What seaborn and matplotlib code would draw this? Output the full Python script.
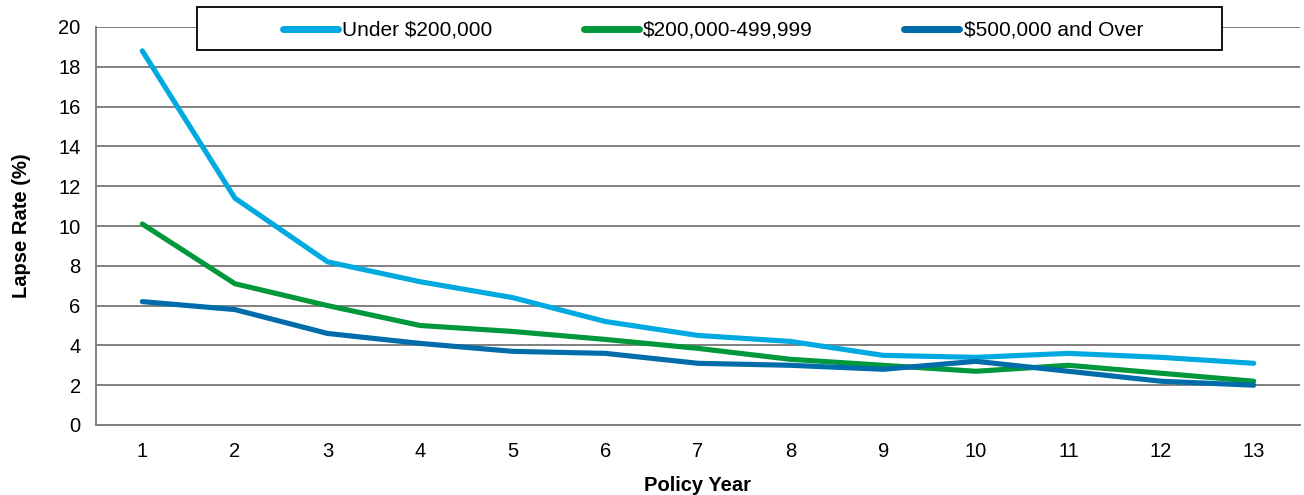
import matplotlib
matplotlib.use("Agg")
import matplotlib.pyplot as plt
from matplotlib.patches import Rectangle
from matplotlib.ticker import FixedLocator, MultipleLocator
import seaborn as sns
import pandas as pd

# Lapse rates (%) by policy year and face-amount band
policy_years = list(range(1, 14))
series_names = ["Under $200,000", "$200,000-499,999", "$500,000 and Over"]
under_200k = [18.8, 11.4, 8.2, 7.2, 6.4, 5.2, 4.5, 4.2, 3.5, 3.4, 3.6, 3.4, 3.1]
mid_band = [10.1, 7.1, 6.0, 5.0, 4.7, 4.3, 3.85, 3.3, 3.0, 2.7, 3.0, 2.6, 2.2]
over_500k = [6.2, 5.8, 4.6, 4.1, 3.7, 3.6, 3.1, 3.0, 2.8, 3.2, 2.7, 2.2, 2.0]
colors = ["#00A9E0", "#00983A", "#006CAA"]

df = pd.DataFrame({
    "Policy Year": policy_years * 3,
    "Lapse Rate": under_200k + mid_band + over_500k,
    "Band": [series_names[0]] * 13 + [series_names[1]] * 13 + [series_names[2]] * 13,
})

sns.set_style("white")
plt.rcParams["font.family"] = ["Liberation Sans", "DejaVu Sans"]
plt.rcParams["text.color"] = "black"
plt.rcParams["axes.labelcolor"] = "black"
plt.rcParams["xtick.labelcolor"] = "black"
plt.rcParams["ytick.labelcolor"] = "black"

fig = plt.figure(figsize=(13.04, 4.95), dpi=100)
ax = fig.add_axes([96 / 1304, 70 / 495, (1300 - 96) / 1304, (425 - 27) / 495])

sns.lineplot(data=df, x="Policy Year", y="Lapse Rate", hue="Band",
             palette=colors, linewidth=3.7, ax=ax, legend=False,
             solid_capstyle="round")

grid_col = "#808080"
ax.set_xlim(0.5, 13.5)
ax.set_ylim(0, 20)
ax.yaxis.set_major_locator(MultipleLocator(2))
ax.xaxis.set_major_locator(FixedLocator(policy_years))
ax.xaxis.set_minor_locator(FixedLocator([y + 0.5 for y in range(0, 14)]))
ax.set_axisbelow(True)
ax.grid(axis="y", color=grid_col, linewidth=1.4)
ax.grid(axis="x", visible=False)
for s in ["top", "right"]:
    ax.spines[s].set_visible(False)
for s in ["left", "bottom"]:
    ax.spines[s].set_color(grid_col)
    ax.spines[s].set_linewidth(1.4)
ax.tick_params(axis="x", which="major", length=0, pad=12, labelsize=14.5)
ax.tick_params(axis="x", which="minor", length=6, width=1.4, color=grid_col, direction="out")
ax.tick_params(axis="y", length=6, width=1.4, color=grid_col, direction="out",
               labelsize=14.5, pad=5)
ax.set_xlabel("Policy Year", fontsize=14.5, fontweight="bold", labelpad=11)
ax.set_ylabel("Lapse Rate (%)", fontsize=14.5, fontweight="bold", labelpad=20)

# Legend box across the top of the plot
box = Rectangle((197 / 1304, 1 - 50 / 495), (1222 - 197) / 1304, 43 / 495,
                transform=fig.transFigure, facecolor="white", edgecolor="black",
                linewidth=1.3, zorder=8)
fig.add_artist(box)
handles = [plt.Line2D([], [], color=c, linewidth=5, solid_capstyle="round") for c in colors]
leg = fig.legend(handles, series_names, loc="center left", ncol=3, frameon=False,
                 bbox_to_anchor=(283 / 1304, 1 - 30.5 / 495), fontsize=15,
                 handlelength=2.65, handletextpad=0.2, columnspacing=4.38,
                 borderpad=0, borderaxespad=0)
leg.set_zorder(9)

fig.savefig("out.png", dpi=100)
